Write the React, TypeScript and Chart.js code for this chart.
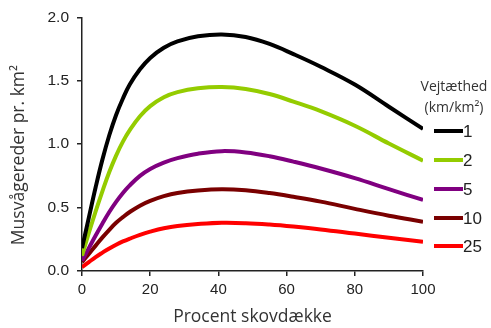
import React, { useEffect, useRef } from "react";
import { Chart, registerables } from "chart.js";

Chart.register(...registerables);

const coverPercent = [0, 2, 4, 6, 8, 10, 12, 14, 17, 20, 24, 28, 34, 41, 48, 55, 62, 70, 80, 90, 100];
const density1 = [0.18, 0.42, 0.66, 0.88, 1.07, 1.23, 1.36, 1.47, 1.59, 1.68, 1.76, 1.81, 1.85, 1.865, 1.845, 1.79, 1.71, 1.61, 1.47, 1.295, 1.12];
const density2 = [0.12, 0.3, 0.47, 0.63, 0.78, 0.91, 1.02, 1.11, 1.22, 1.3, 1.37, 1.41, 1.44, 1.45, 1.435, 1.395, 1.335, 1.26, 1.145, 1.005, 0.87];
const density5 = [0.08, 0.18, 0.28, 0.375, 0.465, 0.545, 0.615, 0.675, 0.75, 0.805, 0.855, 0.89, 0.925, 0.945, 0.935, 0.905, 0.862, 0.808, 0.732, 0.645, 0.56];
const density10 = [0.07, 0.135, 0.2, 0.265, 0.325, 0.38, 0.425, 0.465, 0.515, 0.553, 0.59, 0.615, 0.635, 0.645, 0.637, 0.615, 0.585, 0.547, 0.49, 0.436, 0.388];
const density25 = [0.03, 0.07, 0.11, 0.145, 0.178, 0.207, 0.233, 0.255, 0.285, 0.31, 0.337, 0.355, 0.37, 0.38, 0.377, 0.366, 0.35, 0.328, 0.295, 0.262, 0.23];

const seriesLabels = ["1", "2", "5", "10", "25"];
const seriesColors = ["#000000", "#94cc00", "#800080", "#7a0000", "#ff0000"];
const seriesValues = [density1, density2, density5, density10, density25];

const legendTitle1 = "Vejtæthed";
const legendTitle2 = "(km/km²)";
const xTitle = "Procent skovdække";
const yTitle = "Musvågereder pr. km²";

const legendPlugin = {
  id: "sideLegend",
  afterDraw(chart: any) {
    const ctx = chart.ctx;
    ctx.save();
    // y-axis title
    ctx.save();
    ctx.translate(19, 155);
    ctx.rotate(-Math.PI / 2);
    ctx.fillStyle = "#333";
    ctx.font = "17.5px 'Open Sans'";
    ctx.textAlign = "center";
    ctx.textBaseline = "middle";
    ctx.fillText(yTitle, 0, 0);
    ctx.restore();
    // legend
    ctx.fillStyle = "#333";
    ctx.font = "14px 'Open Sans'";
    ctx.textAlign = "center";
    ctx.textBaseline = "middle";
    ctx.fillText(legendTitle1, 454, 87);
    ctx.fillText(legendTitle2, 454, 108);
    const ys = [131, 160, 189, 218, 246];
    chart.data.datasets.forEach((ds: any, i: number) => {
      ctx.strokeStyle = ds.borderColor;
      ctx.lineWidth = 4;
      ctx.lineCap = "butt";
      ctx.beginPath();
      ctx.moveTo(434, ys[i]);
      ctx.lineTo(463, ys[i]);
      ctx.stroke();
      ctx.fillStyle = "#222";
      ctx.font = "17px 'Liberation Sans'";
      ctx.textAlign = "left";
      ctx.fillText(ds.label, 463, ys[i] + 1);
    });
    ctx.restore();
  },
};

export default function App() {
  const ref = useRef<HTMLCanvasElement>(null);
  useEffect(() => {
    if (!ref.current) return;
    const chart = new Chart(ref.current, {
      type: "line",
      data: {
        labels: coverPercent,
        datasets: seriesValues.map((vals, i) => ({
          label: seriesLabels[i],
          data: vals.map((v, j) => ({ x: coverPercent[j], y: v })),
          borderColor: seriesColors[i],
          backgroundColor: seriesColors[i],
          borderWidth: 4,
          pointRadius: 0,
          tension: 0.4,
          fill: false,
        })),
      },
      options: {
        animation: false,
        responsive: false,
        layout: { padding: { left: 0, right: 68, top: 16, bottom: 0 } },
        plugins: { legend: { display: false }, tooltip: { enabled: false } },
        scales: {
          x: {
            type: "linear",
            min: 0,
            max: 100,
            afterFit: (s: any) => { s.height = 57; },
            border: { color: "#222", width: 1.5 },
            grid: { drawOnChartArea: false, drawTicks: true, tickLength: 5, color: "#222", lineWidth: 1.5 },
            ticks: { stepSize: 20, color: "#222", padding: 5, font: { family: "'Liberation Sans'", size: 15 }, maxRotation: 0 },
            title: { display: true, text: xTitle, color: "#333", font: { family: "'Open Sans'", size: 17.5, lineHeight: 1.2 }, padding: { top: 0, bottom: 0 } },
          },
          y: {
            type: "linear",
            min: 0,
            max: 2,
            afterFit: (s: any) => { s.width = 82; },
            border: { color: "#222", width: 1.5 },
            grid: { drawOnChartArea: false, drawTicks: true, tickLength: 5, color: "#222", lineWidth: 1.5 },
            ticks: { stepSize: 0.5, color: "#222", padding: 8, font: { family: "'Liberation Sans'", size: 15.5 }, callback: (v: any) => Number(v).toFixed(1) },
          },
        },
      },
      plugins: [legendPlugin],
    });
    return () => chart.destroy();
  }, []);
  return (
    <div style={{ position: "fixed", left: 0, top: 0, width: 491, height: 328, background: "#fff" }}>
      <canvas ref={ref} width={491} height={328} />
    </div>
  );
}
